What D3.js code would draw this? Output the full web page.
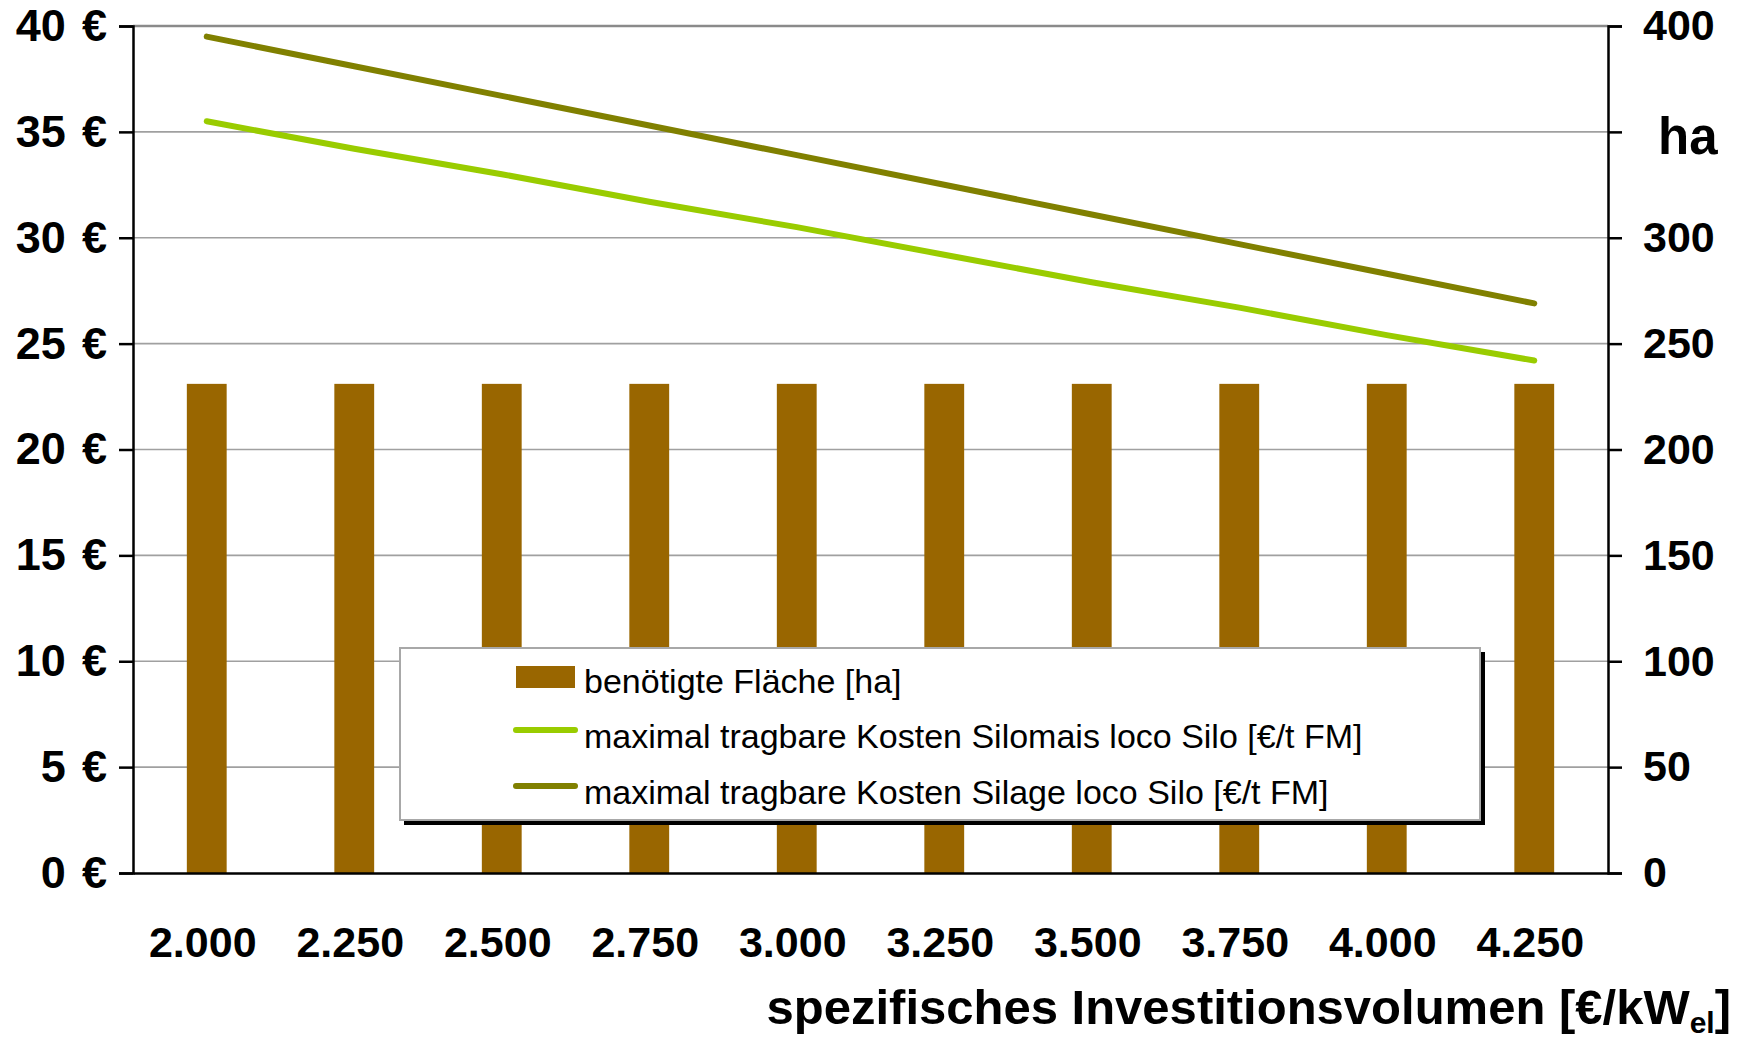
<!DOCTYPE html>
<html>
<head>
<meta charset="utf-8">
<script src="https://cdn.jsdelivr.net/npm/d3@7"></script>
<style>
  html, body { margin: 0; padding: 0; background: #fff; }
  svg { display: block; font-family: "Liberation Sans", Arial, sans-serif; }
</style>
</head>
<body>
<svg id="chart" width="1751" height="1039"></svg>
<script>
// ---- data ----
const categories = ["2.000", "2.250", "2.500", "2.750", "3.000", "3.250", "3.500", "3.750", "4.000", "4.250"];
const areaHa = [231, 231, 231, 231, 231, 231, 231, 231, 231, 231];
const costSilomais = [35.5, 34.2, 33.0, 31.7, 30.5, 29.2, 27.9, 26.7, 25.4, 24.2];
const costSilage = [39.5, 38.1, 36.7, 35.3, 33.9, 32.5, 31.1, 29.7, 28.3, 26.9];
const leftTicks = [0, 5, 10, 15, 20, 25, 30, 35, 40];
const rightTicks = [0, 50, 100, 150, 200, 250, 300, 350, 400];
const rightTickLabels = ["0", "50", "100", "150", "200", "250", "300", "ha", "400"];
const legendLabels = [
  "benötigte Fläche [ha]",
  "maximal tragbare Kosten Silomais loco Silo [€/t FM]",
  "maximal tragbare Kosten Silage loco Silo [€/t FM]"
];
const xTitle = "spezifisches Investitionsvolumen [€/kW";
const xTitleSub = "el";

// ---- layout ----
const L = 133, R = 1608, T = 26, B = 873;
const colBar = "#996600", colMais = "#99CC00", colSilage = "#808000";

const svg = d3.select("#chart");

const x = d3.scaleBand().domain(categories).range([L, R]).paddingInner(0.73).paddingOuter(0.365);
const yL = d3.scaleLinear().domain([0, 40]).range([B, T]);
const yR = d3.scaleLinear().domain([0, 400]).range([B, T]);

// gridlines
svg.append("g").selectAll("line").data(leftTicks.filter(d => d > 0)).join("line")
  .attr("x1", L).attr("x2", R)
  .attr("y1", d => yL(d)).attr("y2", d => yL(d))
  .attr("stroke", d => d === 40 ? "#8a8a8a" : "#a0a0a0")
  .attr("stroke-width", d => d === 40 ? 2.5 : 1.6);

// bars
svg.append("g").selectAll("rect").data(categories).join("rect")
  .attr("x", d => x(d))
  .attr("width", x.bandwidth())
  .attr("y", (d, i) => yR(areaHa[i]))
  .attr("height", (d, i) => B - yR(areaHa[i]))
  .attr("fill", colBar);

// lines
const line = d3.line()
  .x(d => x(d.c) + x.bandwidth() / 2)
  .y(d => yL(d.v));
[[costSilomais, colMais], [costSilage, colSilage]].forEach(([vals, col]) => {
  svg.append("path")
    .datum(categories.map((c, i) => ({ c, v: vals[i] })))
    .attr("d", line)
    .attr("fill", "none")
    .attr("stroke", col)
    .attr("stroke-width", 6)
    .attr("stroke-linecap", "round")
    .attr("stroke-linejoin", "round");
});

// left axis
const axL = svg.append("g").attr("transform", `translate(${L},0)`)
  .call(d3.axisLeft(yL).tickValues(leftTicks).tickSize(14).tickPadding(12).tickFormat(d => d + " \u200A€"));
// right axis
const axR = svg.append("g").attr("transform", `translate(${R},0)`)
  .call(d3.axisRight(yR).tickValues(rightTicks).tickSize(14).tickPadding(21)
    .tickFormat((d, i) => rightTickLabels[i]));
[axL, axR].forEach(g => {
  g.select(".domain").attr("stroke", "#000").attr("stroke-width", 2.5);
  g.selectAll(".tick line").attr("stroke", "#000").attr("stroke-width", 2.5);
  g.selectAll(".tick text").attr("fill", "#000")
    .style("font-family", "'Liberation Sans', Arial, sans-serif")
    .style("font-weight", "bold").style("font-size", "43px");
});
axL.selectAll(".tick text").style("font-size", "45px");
axR.selectAll(".tick text").filter(d => d === 350)
  .style("font-size", "51px").attr("dy", "0.42em").attr("x", 50);

// bottom axis
const axB = svg.append("g").attr("transform", `translate(0,${B})`)
  .call(d3.axisBottom(x).tickSize(0).tickPadding(0));
axB.select(".domain").attr("stroke", "#000").attr("stroke-width", 2.5);
axB.selectAll(".tick text")
  .attr("y", 957 - B).attr("dy", 0).attr("x", -4)
  .attr("fill", "#000")
  .style("font-family", "'Liberation Sans', Arial, sans-serif")
  .style("font-weight", "bold").style("font-size", "43px");

// x title
const xt = svg.append("text")
  .attr("x", 1731).attr("y", 1024)
  .attr("text-anchor", "end")
  .style("font-weight", "bold").style("font-size", "49px")
  .attr("fill", "#000");
xt.append("tspan").text(xTitle);
xt.append("tspan").text(xTitleSub).style("font-size", "30px").attr("dy", 9);
xt.append("tspan").text("]").attr("dy", -9);

// legend
const lg = svg.append("g");
lg.append("rect").attr("x", 404).attr("y", 652).attr("width", 1081).attr("height", 173).attr("fill", "#000");
lg.append("rect").attr("x", 400).attr("y", 648).attr("width", 1080).attr("height", 172)
  .attr("fill", "#fff").attr("stroke", "#a8a8a8").attr("stroke-width", 2);
const baselines = [693, 748, 804];
lg.append("rect").attr("x", 516).attr("y", 666).attr("width", 59).attr("height", 22).attr("fill", colBar);
[[colMais, 730], [colSilage, 786]].forEach(([c, yy]) => {
  lg.append("line").attr("x1", 516).attr("x2", 575).attr("y1", yy).attr("y2", yy)
    .attr("stroke", c).attr("stroke-width", 6).attr("stroke-linecap", "round");
});
lg.selectAll("text.lt").data(legendLabels).join("text")
  .attr("class", "lt")
  .attr("x", 584).attr("y", (d, i) => baselines[i])
  .style("font-size", "34px").attr("fill", "#000")
  .text(d => d);
</script>
</body>
</html>
